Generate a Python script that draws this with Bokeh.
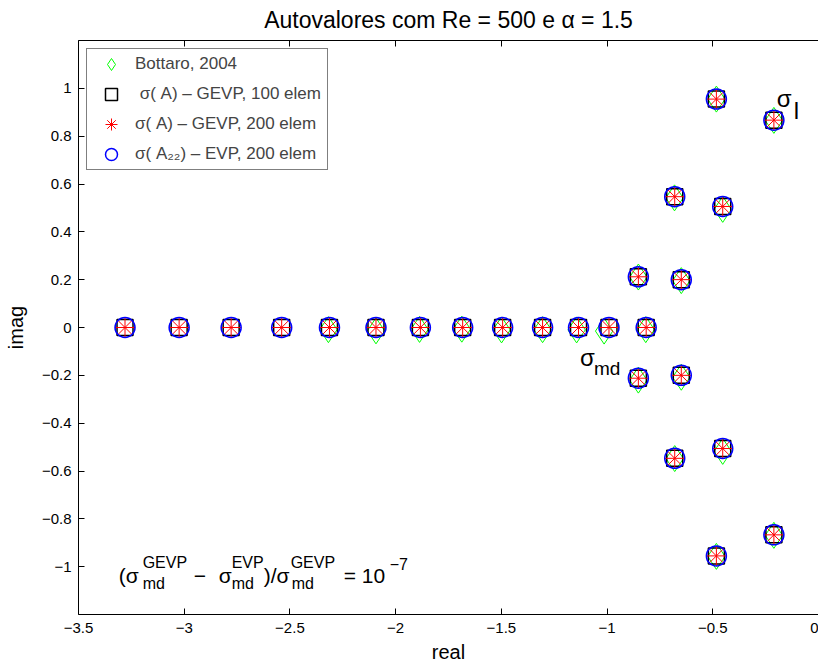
from bokeh.plotting import figure
from bokeh.models import (Legend, LegendItem, LinearAxis, FixedTicker, Label,
                          Range1d, ColumnDataSource)
from bokeh.embed import file_html
from bokeh.resources import INLINE

FONT = "Liberation Sans"

title_text = "Autovalores com Re = 500 e α = 1.5"
x_label = "real"
y_label = "imag"

x_ticks = [-3.5, -3.0, -2.5, -2.0, -1.5, -1.0, -0.5, 0.0]
x_tick_labels = ["−3.5", "−3", "−2.5", "−2", "−1.5", "−1", "−0.5", "0"]
y_ticks = [-1.0, -0.8, -0.6, -0.4, -0.2, 0.0, 0.2, 0.4, 0.6, 0.8, 1.0]
y_tick_labels = ["−1", "−0.8", "−0.6", "−0.4", "−0.2", "0", "0.2", "0.4", "0.6", "0.8", "1"]

series_labels = ["Bottaro, 2004", " σ( A) – GEVP, 100 elem",
                 "σ( A) – GEVP, 200 elem", "σ( A₂₂) – EVP, 200 elem"]

# Bottaro, 2004
bottaro_real = [-2.318, -2.093, -1.887, -1.687, -1.499, -1.305, -1.144, -1.014, -0.817,
                -0.852, -0.852, -0.649, -0.649, -0.681, -0.680, -0.453, -0.453,
                -0.483, -0.483, -0.211, -0.211]
bottaro_imag = [-0.009, -0.014, -0.008, -0.007, -0.010, -0.009, -0.010, -0.015, -0.009,
                0.211, -0.220, 0.196, -0.208, 0.542, -0.548, 0.494, -0.518,
                0.955, -0.957, 0.866, -0.869]

# sigma(A) - GEVP, 100 elem
gevp100_real = [-3.280, -3.024, -2.778, -2.539, -2.313, -2.093, -1.883, -1.683, -1.494,
                -1.305, -1.135, -0.991, -0.815,
                -0.852, -0.852, -0.649, -0.649, -0.680, -0.680, -0.453, -0.453,
                -0.483, -0.483, -0.211, -0.211]
gevp100_imag = [0.0, 0.0, 0.0, 0.0, 0.0, 0.0, 0.0, 0.0, 0.0, 0.0, 0.0, 0.0, 0.0,
                0.212, -0.212, 0.200, -0.200, 0.547, -0.547, 0.506, -0.506,
                0.955, -0.955, 0.867, -0.867]

# sigma(A) - GEVP, 200 elem
gevp200_real = [-3.280, -3.024, -2.778, -2.539, -2.313, -2.093, -1.883, -1.683, -1.494,
                -1.305, -1.135, -0.991, -0.815,
                -0.852, -0.852, -0.649, -0.649, -0.680, -0.680, -0.453, -0.453,
                -0.483, -0.483, -0.211, -0.211]
gevp200_imag = [0.0, 0.0, 0.0, 0.0, 0.0, 0.0, 0.0, 0.0, 0.0, 0.0, 0.0, 0.0, 0.0,
                0.212, -0.212, 0.200, -0.200, 0.547, -0.547, 0.506, -0.506,
                0.955, -0.955, 0.867, -0.867]

# sigma(A22) - EVP, 200 elem
evp200_real = [-3.280, -3.024, -2.778, -2.539, -2.313, -2.093, -1.883, -1.683, -1.494,
               -1.305, -1.135, -0.991, -0.815,
               -0.852, -0.852, -0.649, -0.649, -0.680, -0.680, -0.453, -0.453,
               -0.483, -0.483, -0.211, -0.211]
evp200_imag = [0.0, 0.0, 0.0, 0.0, 0.0, 0.0, 0.0, 0.0, 0.0, 0.0, 0.0, 0.0, 0.0,
               0.212, -0.212, 0.200, -0.200, 0.547, -0.547, 0.506, -0.506,
               0.955, -0.955, 0.867, -0.867]

p = figure(width=818, height=668, x_range=Range1d(-3.5, 0.0), y_range=Range1d(-1.2, 1.2),
           output_backend="svg", toolbar_location=None,
           min_border_left=78, min_border_right=0, min_border_top=39, min_border_bottom=54)
p.outline_line_color = None
p.xgrid.visible = False
p.ygrid.visible = False
p.background_fill_color = "white"
p.border_fill_color = "white"

p.title.text = title_text
p.title.align = "center"
p.title.vertical_align = "top"
p.title.text_font = FONT
p.title.text_font_size = "23px"
p.title.text_font_style = "normal"
p.title.text_color = "black"
p.title.standoff = 12

def style_axis(ax, ticks, labels, show_labels=True, show_line=True):
    ax.ticker = FixedTicker(ticks=ticks)
    ax.major_tick_in = 6
    ax.major_tick_out = 0
    ax.minor_tick_line_color = None
    ax.major_tick_line_color = "black"
    ax.axis_line_color = "black" if show_line else None
    ax.major_label_text_font = FONT
    if show_labels:
        ax.major_label_overrides = {t: l for t, l in zip(ticks, labels)}
        ax.major_label_text_color = "black"
        ax.major_label_text_font_size = "15px"
        ax.major_label_standoff = 7
    else:
        ax.major_label_text_color = None
        ax.major_label_text_font_size = "1px"
        ax.major_label_standoff = 0
    ax.axis_label_text_font = FONT
    ax.axis_label_text_font_style = "normal"
    ax.axis_label_text_font_size = "20px"
    ax.axis_label_text_color = "black"

style_axis(p.xaxis[0], x_ticks, x_tick_labels)
p.xaxis[0].axis_label = x_label
p.xaxis[0].major_label_standoff = 8
p.xaxis[0].axis_label_standoff = 5
style_axis(p.yaxis[0], y_ticks, y_tick_labels)
p.yaxis[0].axis_label = y_label
p.yaxis[0].axis_label_standoff = 12

top_axis = LinearAxis()
style_axis(top_axis, x_ticks, x_tick_labels, show_labels=False)
p.add_layout(top_axis, "above")

src_b = ColumnDataSource(dict(x=bottaro_real, y=bottaro_imag))
src_1 = ColumnDataSource(dict(x=gevp100_real, y=gevp100_imag))
src_2 = ColumnDataSource(dict(x=gevp200_real, y=gevp200_imag))
src_3 = ColumnDataSource(dict(x=evp200_real, y=evp200_imag))

r_b = p.scatter("x", "y", source=src_b, marker="diamond", size=26, fill_color=None,
                line_color="#00ff00", line_width=1)
r_1 = p.scatter("x", "y", source=src_1, marker="square", size=16, fill_color=None,
                line_color="black", line_width=1.5)
r_2 = p.scatter("x", "y", source=src_2, marker="asterisk", size=20,
                line_color="#ff0000", line_width=1)
r_3 = p.scatter("x", "y", source=src_3, marker="circle", size=20, fill_color=None,
                line_color="#0000ff", line_width=1.5)

legend = Legend(items=[LegendItem(label=series_labels[0], renderers=[r_b]),
                       LegendItem(label=series_labels[1], renderers=[r_1]),
                       LegendItem(label=series_labels[2], renderers=[r_2]),
                       LegendItem(label=series_labels[3], renderers=[r_3])],
                location="top_left", margin=8, padding=0, spacing=-10,
                glyph_height=30, glyph_width=48, label_standoff=0, label_height=20,
                label_width=192,
                label_text_font=FONT, label_text_font_size="17px",
                border_line_color="black", border_line_width=1.5,
                background_fill_color="white", background_fill_alpha=1.0)
p.add_layout(legend)

def add_text(x, y, text, size, dx=0, dy=0):
    p.add_layout(Label(x=x, y=y, x_offset=dx, y_offset=dy, text=text,
                       text_font=FONT, text_font_size=size, text_color="black",
                       text_align="left", text_baseline="alphabetic"))

# sigma_l
add_text(-0.197, 0.958, "σ", "24px")
add_text(-0.197, 0.958, "l", "24px", dx=17, dy=-12)
# sigma_md
add_text(-1.128, -0.125, "σ", "24px")
add_text(-1.128, -0.125, "md", "19px", dx=14, dy=-11)
# relative difference annotation
fx, fy = -3.310, -1.038
add_text(fx, fy, "(σ", "21px")
add_text(fx, fy, "GEVP", "16px", dx=24, dy=13)
add_text(fx, fy, "md", "16px", dx=24, dy=-8)
add_text(fx, fy, "−", "21px", dx=75)
add_text(fx, fy, "σ", "21px", dx=100)
add_text(fx, fy, "EVP", "16px", dx=113, dy=13)
add_text(fx, fy, "md", "16px", dx=113, dy=-8)
add_text(fx, fy, ")/σ", "21px", dx=145)
add_text(fx, fy, "GEVP", "16px", dx=172, dy=13)
add_text(fx, fy, "md", "16px", dx=173, dy=-8)
add_text(fx, fy, "= 10", "21px", dx=225)
add_text(fx, fy, "−7", "16px", dx=271, dy=12)

open("out.html", "w").write(file_html(p, INLINE))
